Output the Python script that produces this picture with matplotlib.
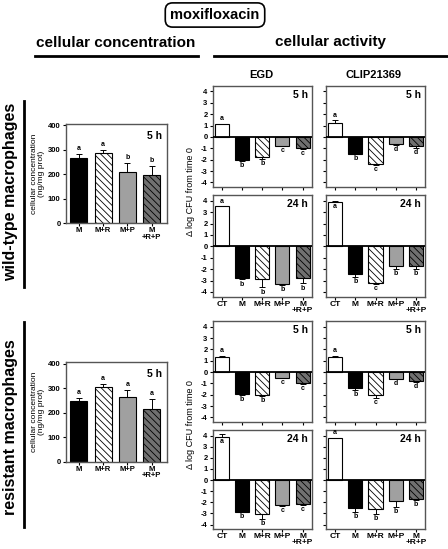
import numpy as np
import matplotlib
matplotlib.use('Agg')
import matplotlib.pyplot as plt
from matplotlib.lines import Line2D

plt.rcParams['font.family'] = ['Liberation Sans', 'DejaVu Sans']
plt.rcParams['hatch.linewidth'] = 0.6

# categories
act_groups = ['CT', 'M', 'M+R', 'M+P', 'M\n+R+P']
conc_groups = ['M', 'M+R', 'M+P', 'M\n+R+P']

# cellular concentration (ng/mg prot), 5 h
wt_conc = [266, 286, 209, 195]
wt_conc_err = [15, 14, 36, 40]
wt_conc_let = ['a', 'a', 'b', 'b']
res_conc = [247, 305, 262, 213]
res_conc_err = [13, 10, 32, 41]
res_conc_let = ['a', 'a', 'a', 'a']

# cellular activity (delta log CFU from time 0)
wt_egd_5 = [1.15, -2.0, -1.8, -0.77, -0.97]
wt_egd_5_err = [0.02, 0.1, 0.15, 0.05, 0.05]
wt_egd_5_let = ['a', 'b', 'b', 'c', 'c']
wt_clip_5 = [1.25, -1.48, -2.36, -0.62, -0.8]
wt_clip_5_err = [0.25, 0.03, 0.12, 0.1, 0.2]
wt_clip_5_let = ['a', 'b', 'c', 'd', 'd']
wt_egd_24 = [3.5, -2.8, -2.9, -3.27, -2.8]
wt_egd_24_err = [0.05, 0.1, 0.7, 0.1, 0.45]
wt_egd_24_let = ['a', 'b', 'b', 'b', 'b']
wt_clip_24 = [3.9, -2.45, -3.2, -1.75, -1.75]
wt_clip_24_err = [0.1, 0.2, 0.1, 0.2, 0.2]
wt_clip_24_let = ['a', 'b', 'c', 'b', 'b']

res_egd_5 = [1.35, -1.9, -2.0, -0.5, -1.0]
res_egd_5_err = [0.1, 0.12, 0.12, 0.03, 0.05]
res_egd_5_let = ['a', 'b', 'b', 'c', 'c']
res_clip_5 = [1.35, -1.4, -2.05, -0.6, -0.83]
res_clip_5_err = [0.1, 0.15, 0.25, 0.03, 0.05]
res_clip_5_let = ['a', 'b', 'c', 'd', 'd']
res_egd_24 = [3.85, -2.84, -3.05, -2.26, -2.17]
res_egd_24_err = [0.25, 0.05, 0.45, 0.05, 0.05]
res_egd_24_let = ['a', 'b', 'b', 'c', 'c']
res_clip_24 = [3.77, -2.47, -2.56, -1.89, -1.74]
res_clip_24_err = [0.05, 0.37, 0.5, 0.55, 0.05]
res_clip_24_let = ['a', 'b', 'b', 'b', 'b']

W, H = 448, 549
fig = plt.figure(figsize=(W / 100, H / 100), dpi=100)

def box(x0, y0, x1, y1):
    # pixel box (top-left origin) -> figure fraction
    return [x0 / W, 1 - y1 / H, (x1 - x0) / W, (y1 - y0) / H]

fills = {'CT': 'white', 'M': 'black', 'M+R': 'white', 'M+P': '#a0a0a0', 'M\n+R+P': '#707070'}
hatches = {'M+R': '\\' * 5, 'M\n+R+P': '\\' * 5}

def style(ax):
    for s in ax.spines.values():
        s.set_color('#555555')
        s.set_linewidth(1.0)
    ax.tick_params(direction='out', length=2.5, width=0.8, pad=1.2, labelsize=5.5)
    ax.tick_params(axis='x', length=2, pad=1)
    for lab in ax.get_yticklabels():
        lab.set_fontweight('bold')

def bars(ax, groups, vals, errs, lets, ymax, step):
    x = np.arange(len(groups))
    for i, g in enumerate(groups):
        ax.bar(x[i], vals[i], width=0.7, color=fills[g], edgecolor='black',
               linewidth=0.8, hatch=hatches.get(g), zorder=2)
        e = errs[i]
        v = vals[i]
        if v >= 0:
            ax.errorbar(x[i], v, yerr=[[0], [e]], fmt='none', ecolor='black',
                        elinewidth=0.7, capsize=2.2, capthick=0.7, zorder=3)
            if v + e + 5.5 * step < ymax:
                ax.text(x[i], v + e + step, lets[i], ha='center', va='bottom',
                        fontsize=5, fontweight='bold')
            else:
                ax.text(x[i], v - step, lets[i], ha='center', va='top',
                        fontsize=5, fontweight='bold')
        else:
            ax.errorbar(x[i], v, yerr=[[e], [0]], fmt='none', ecolor='black',
                        elinewidth=0.7, capsize=2.2, capthick=0.7, zorder=3)
            ax.text(x[i], v - e - step, lets[i], ha='center', va='top',
                    fontsize=5, fontweight='bold')
    return x

def activity(pos, vals, errs, lets, label, ylabels, xlabels):
    ax = fig.add_axes(box(*pos))
    x = bars(ax, act_groups, vals, errs, lets, 4.5, 0.1)
    ax.axhline(0, color='black', lw=1.3, zorder=4)
    ax.set_xlim(-0.45, 4.45)
    ax.set_ylim(-4.4, 4.5)
    ax.set_yticks(range(-4, 5))
    ax.set_xticks(x)
    style(ax)
    if ylabels:
        ax.set_yticklabels([str(v) for v in range(-4, 5)], fontweight='bold')
    else:
        ax.set_yticklabels([])
    if xlabels:
        ax.set_xticklabels(act_groups, fontsize=6, fontweight='bold', linespacing=0.8)
    else:
        ax.set_xticklabels([])
    ax.text(0.96, 0.96, label, transform=ax.transAxes, ha='right', va='top',
            fontsize=7.5, fontweight='bold')
    return ax

def concentration(pos, vals, errs, lets):
    ax = fig.add_axes(box(*pos))
    x = bars(ax, conc_groups, vals, errs, lets, 1e9, 8)
    ax.set_xlim(-0.54, 3.63)
    ax.set_ylim(0, 405)
    ax.set_yticks([0, 100, 200, 300, 400])
    ax.set_xticks(x)
    ax.set_xticklabels(conc_groups, fontsize=6, fontweight='bold', linespacing=0.9)
    style(ax)
    ax.set_ylabel('cellular concentration\n(ng/mg prot)', fontsize=6, labelpad=2,
                  linespacing=1.1)
    ax.text(0.95, 0.93, '5 h', transform=ax.transAxes, ha='right', va='top',
            fontsize=7.5, fontweight='bold')
    return ax

ex0, ex1 = 212.7, 311.7
cx0, cx1 = 326, 425
rows = [(85.7, 187), (195, 296.5), (321, 422), (430, 529)]

activity((ex0, rows[0][0], ex1, rows[0][1]), wt_egd_5, wt_egd_5_err, wt_egd_5_let, '5 h', True, False)
activity((cx0, rows[0][0], cx1, rows[0][1]), wt_clip_5, wt_clip_5_err, wt_clip_5_let, '5 h', False, False)
activity((ex0, rows[1][0], ex1, rows[1][1]), wt_egd_24, wt_egd_24_err, wt_egd_24_let, '24 h', True, True)
activity((cx0, rows[1][0], cx1, rows[1][1]), wt_clip_24, wt_clip_24_err, wt_clip_24_let, '24 h', False, True)
activity((ex0, rows[2][0], ex1, rows[2][1]), res_egd_5, res_egd_5_err, res_egd_5_let, '5 h', True, False)
activity((cx0, rows[2][0], cx1, rows[2][1]), res_clip_5, res_clip_5_err, res_clip_5_let, '5 h', False, False)
activity((ex0, rows[3][0], ex1, rows[3][1]), res_egd_24, res_egd_24_err, res_egd_24_let, '24 h', True, True)
activity((cx0, rows[3][0], cx1, rows[3][1]), res_clip_24, res_clip_24_err, res_clip_24_let, '24 h', False, True)

concentration((65.7, 124, 167, 223.3), wt_conc, wt_conc_err, wt_conc_let)
concentration((65.7, 362.3, 167, 461.7), res_conc, res_conc_err, res_conc_let)

# y labels of activity panels
for y0, y1 in [(rows[0][0], rows[1][1]), (rows[2][0], rows[3][1])]:
    fig.text(190 / W, 1 - (y0 + y1) / 2 / H, '\u0394 log CFU from time 0', rotation=90,
             ha='center', va='center', fontsize=6.5)

# headers
fig.text(215 / W, 1 - 15 / H, 'moxifloxacin', ha='center', va='center', fontsize=10.5,
         fontweight='bold',
         bbox=dict(boxstyle='round,pad=0.35,rounding_size=0.5', fc='white', ec='black', lw=1.2))
fig.text(116 / W, 1 - 43 / H, 'cellular concentration', ha='center', va='center',
         fontsize=11, fontweight='bold')
fig.text(330 / W, 1 - 42 / H, 'cellular activity', ha='center', va='center',
         fontsize=11, fontweight='bold')
fig.add_artist(Line2D([35 / W, 198 / W], [1 - 56 / H] * 2, color='black', lw=2))
fig.add_artist(Line2D([214 / W, 448 / W], [1 - 56 / H] * 2, color='black', lw=2))
fig.text(261 / W, 1 - 75 / H, 'EGD', ha='center', va='center', fontsize=8, fontweight='bold')
fig.text(373 / W, 1 - 75 / H, 'CLIP21369', ha='center', va='center', fontsize=8,
         fontweight='bold')

# row labels
fig.text(11 / W, 1 - 192 / H, 'wild-type macrophages', rotation=90, ha='center',
         va='center', fontsize=11.5, fontweight='bold')
fig.text(11 / W, 1 - 427 / H, 'resistant macrophages', rotation=90, ha='center',
         va='center', fontsize=11.5, fontweight='bold')
fig.add_artist(Line2D([24 / W] * 2, [1 - 101 / H, 1 - 287 / H], color='black', lw=2))
fig.add_artist(Line2D([24 / W] * 2, [1 - 322 / H, 1 - 527 / H], color='black', lw=2))

fig.savefig('out.png', dpi=100)
